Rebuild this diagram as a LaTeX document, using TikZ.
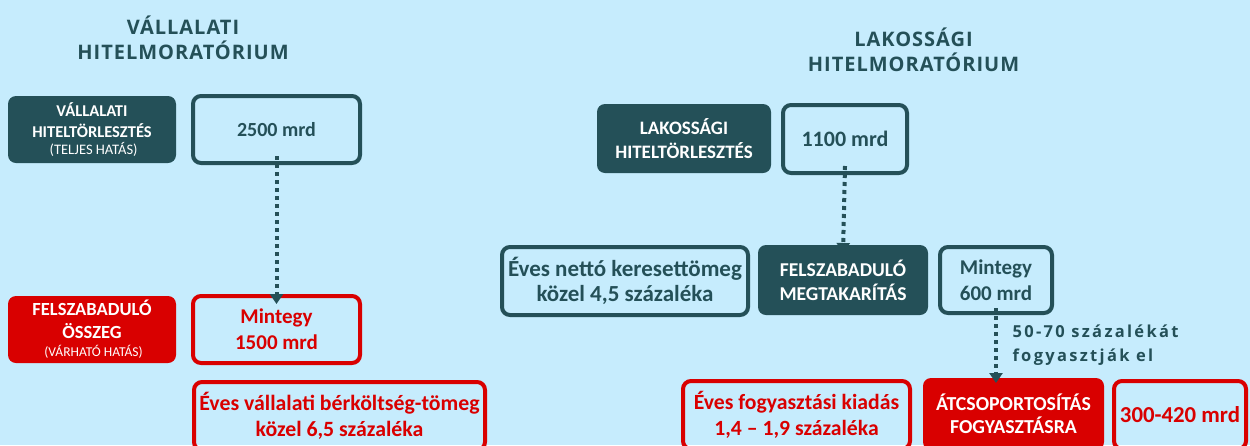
\documentclass[tikz,border=0pt]{standalone}
\usepackage{fontspec}
\setmainfont{Carlito}
\newfontfamily\titlefont{Open Sans}[LetterSpace=5]
\newfontfamily\labelfont{Open Sans}[LetterSpace=14]
\usetikzlibrary{arrows.meta}
\definecolor{bg}{HTML}{C6ECFD}
\definecolor{dk}{HTML}{245058}
\definecolor{rd}{HTML}{D90000}
\newcommand{\fs}[2]{\fontsize{#1}{#2}\selectfont}
\begin{document}
\begin{tikzpicture}[x=1pt,y=-1pt,
  box/.style={rounded corners=8pt, align=center, inner sep=0pt, outer sep=0pt},
  darkbox/.style={box, fill=dk, text=white, font=\bfseries\fs{16.5}{21}},
  redbox/.style={box, fill=rd, text=white, font=\bfseries\fs{18.5}{23}},
  dkline/.style={box, draw=dk, line width=4pt, text=dk, font=\bfseries\fs{21}{26}},
  rdline/.style={box, draw=rd, line width=4pt, text=rd, font=\bfseries\fs{21}{26}},
  ttl/.style={text=dk, align=center, font=\titlefont\bfseries\fs{20}{25}},
  lbl/.style={text=dk, align=left, font=\labelfont\bfseries\fs{16.5}{24}},
  dotarrow/.style={draw=dk, line width=4pt, dash pattern=on 4pt off 4pt, -{Triangle[width=13pt,length=10pt]}}
]
\fill[bg] (0,0) rectangle (1250,445);
\useasboundingbox (0,0) rectangle (1250,445);
\clip (0,0) rectangle (1250,445);

% left
\node[ttl] (t1) at (183,37.5) {VÁLLALATI\\HITELMORATÓRIUM};
\node[darkbox, minimum width=168pt, minimum height=67pt] (a1) at (92,129.5)
  {VÁLLALATI\\HITELTÖRLESZTÉS\\[-4pt]{\mdseries\fs{14.5}{17} (TELJES HATÁS)}};
\node[dkline, font=\bfseries\fs{20}{25}, minimum width=167pt, minimum height=67pt] (a2) at (276.5,129.5) {2500 mrd};
\node[redbox, minimum width=168pt, minimum height=67pt] (b1) at (92,329.5)
  {FELSZABADULÓ\\ÖSSZEG\\[-5pt]{\mdseries\fs{13.5}{16} (VÁRHATÓ HATÁS)}};
\node[rdline, minimum width=167pt, minimum height=67pt] (b2) at (276.5,329.5) {Mintegy\\1500 mrd};
\node[rdline, font=\bfseries\fs{21.8}{26}, minimum width=291pt, minimum height=68pt] (c) at (339.5,416)
  {Éves vállalati bérköltség-tömeg\\közel 6,5 százaléka};
\draw[dotarrow] ([yshift=7pt]a2.south) -- ([yshift=-8pt]b2.north);

% right
\node[ttl] (t2) at (913.5,49.5) {LAKOSSÁGI\\HITELMORATÓRIUM};
\node[darkbox, font=\bfseries\fs{19}{23.5}, minimum width=174pt, minimum height=69pt] (d1) at (684,138.5)
  {LAKOSSÁGI\\HITELTÖRLESZTÉS};
\node[dkline, font=\bfseries\fs{22}{26}, minimum width=124pt, minimum height=68pt] (d2) at (845,139) {1100 mrd};
\node[dkline, font=\bfseries\fs{23}{25}, minimum width=246pt, minimum height=68pt] (e1) at (625,281)
  {Éves nettó keresettömeg\\közel 4,5 százaléka};
\node[darkbox, font=\bfseries\fs{19.6}{24}, minimum width=170pt, minimum height=70pt] (e2) at (843,280)
  {FELSZABADULÓ\\MEGTAKARÍTÁS};
\node[dkline, minimum width=112pt, minimum height=66pt] (e3) at (996,280) {Mintegy\\600 mrd};
\node[rdline, font=\bfseries\fs{21.7}{26}, minimum width=227pt, minimum height=68pt] (f1) at (796.5,415)
  {Éves fogyasztási kiadás\\1,4 – 1,9 százaléka};
\node[redbox, font=\bfseries\fs{19.8}{23}, minimum width=181pt, minimum height=72pt] (f2) at (1013.5,414)
  {ÁTCSOPORTOSÍTÁS\\FOGYASZTÁSRA};
\node[rdline, font=\bfseries\fs{22.8}{26}, minimum width=132pt, minimum height=68pt] (f3) at (1180,415) {300-420 mrd};
\draw[dotarrow] ([yshift=7pt]d2.south) -- ([yshift=-8pt]e2.north);
\coordinate (fe) at (e3.south |- f2.north);
\draw[dotarrow] ([yshift=5pt]e3.south) -- ([yshift=-5pt]fe);
\node[lbl, anchor=west] (lab) at (1009,345) {50-70 százalékát\\fogyasztják el};
\end{tikzpicture}
\end{document}
